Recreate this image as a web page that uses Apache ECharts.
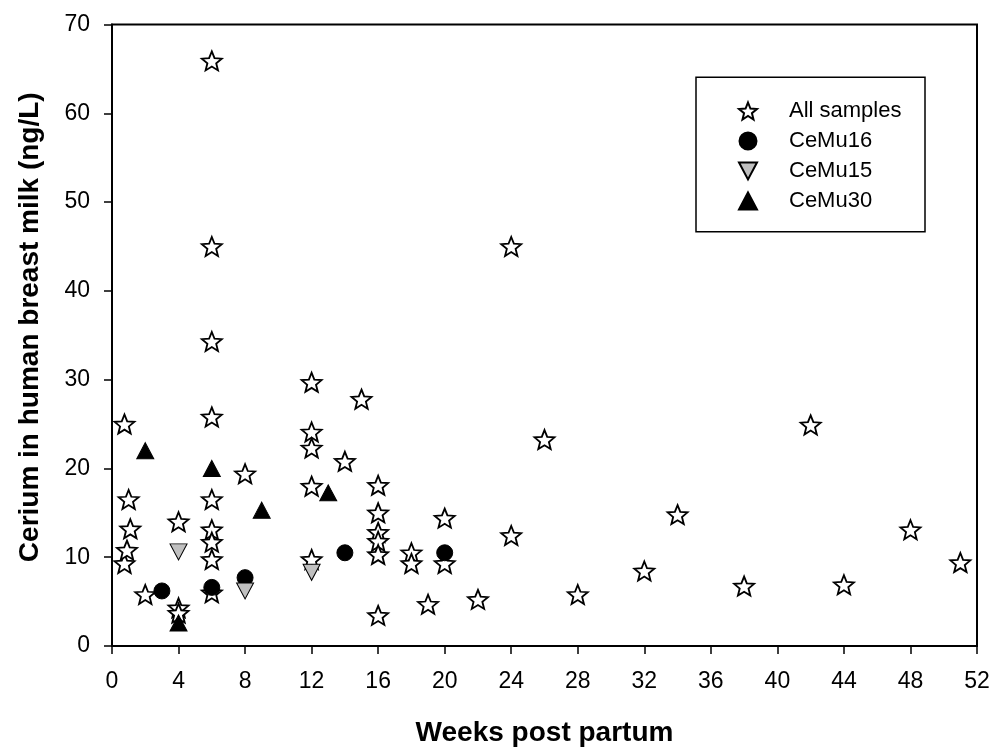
<!DOCTYPE html>
<html>
<head>
<meta charset="utf-8">
<script src="https://cdn.jsdelivr.net/npm/echarts@6/dist/echarts.min.js"></script>
<style>
  html, body { margin: 0; padding: 0; background: #fff; }
  #chart { width: 995px; height: 752px; }
</style>
</head>
<body>
<div id="chart"></div>
<script>
"use strict";

// weeks post partum / cerium (ng/L)
var allWeeks = [0.75, 0.75, 0.9, 1, 1.1, 2, 4, 4, 4, 6, 6, 6, 6, 6, 6, 6, 6, 6, 8,
  12, 12, 12, 12, 12, 14, 15, 16, 16, 16, 16, 16, 16, 18, 18, 19, 20, 20, 22,
  24, 24, 26, 28, 32, 34, 38, 42, 44, 48, 51];
var allCe = [25.0, 9.3, 10.8, 16.5, 13.2, 5.8, 14.0, 4.3, 3.7, 65.9, 45.0, 34.3, 25.8, 16.5, 13.1, 11.7, 9.75, 6.0, 19.4,
  29.7, 24.1, 22.3, 18.0, 9.75, 20.8, 27.8, 18.1, 15.0, 12.8, 11.8, 10.3, 3.45, 10.5, 9.3, 4.7, 14.4, 9.3, 5.25,
  45.0, 12.45, 23.25, 5.8, 8.45, 14.8, 6.75, 24.9, 6.9, 13.1, 9.4];

var cemu16Weeks = [3, 6, 8, 14, 20];
var cemu16Ce = [6.2, 6.6, 7.7, 10.5, 10.5];

var cemu15Weeks = [4, 8, 12];
var cemu15Ce = [10.6, 6.2, 8.3];

var cemu30Weeks = [2, 4, 6, 9, 13];
var cemu30Ce = [22, 2.6, 20, 15.3, 17.25];

var xTicks = [0, 4, 8, 12, 16, 20, 24, 28, 32, 36, 40, 44, 48, 52];
var yTicks = [0, 10, 20, 30, 40, 50, 60, 70];

function pairs(xs, ys) {
  return xs.map(function (x, i) { return [x, ys[i]]; });
}

var starPath = 'path://M50,0 L62.9,32.2 L97.6,34.5 L70.9,56.8 L79.4,90.5 L50,72 L20.6,90.5 L29.1,56.8 L2.4,34.5 L37.1,32.2 Z';
var downTriPath = 'path://M0,0 L100,0 L50,94 Z';
var FONT = '"Liberation Sans", Arial, sans-serif';

var chart = echarts.init(document.getElementById('chart'), null, { renderer: 'canvas' });

var option = {
  backgroundColor: '#fff',
  animation: false,
  grid: {
    left: 112, right: 18, top: 24.5, bottom: 105.3,
    show: true, borderColor: '#000', borderWidth: 2,
    containLabel: false
  },
  xAxis: {
    type: 'value',
    min: xTicks[0], max: xTicks[xTicks.length - 1], interval: 4,
    name: 'Weeks post partum',
    nameLocation: 'middle',
    nameGap: 73,
    nameTextStyle: { fontFamily: FONT, fontSize: 28, fontWeight: 'bold', color: '#000' },
    axisLine: { show: true, lineStyle: { color: '#000', width: 2 } },
    axisTick: { show: true, inside: false, length: 8, lineStyle: { color: '#000', width: 1.5 } },
    axisLabel: { fontFamily: FONT, fontSize: 23, color: '#000', margin: 24 },
    splitLine: { show: false }
  },
  yAxis: {
    type: 'value',
    min: yTicks[0], max: yTicks[yTicks.length - 1], interval: 10,
    name: 'Cerium in human breast milk (ng/L)',
    nameLocation: 'middle',
    nameGap: 68,
    nameTextStyle: { fontFamily: FONT, fontSize: 28, fontWeight: 'bold', color: '#000', padding: [0, 0, 0, 16] },
    axisLine: { show: true, lineStyle: { color: '#000', width: 2 } },
    axisTick: { show: true, inside: false, length: 8, lineStyle: { color: '#000', width: 1.5 } },
    axisLabel: { fontFamily: FONT, fontSize: 23, color: '#000', margin: 22 },
    splitLine: { show: false }
  },
  legend: {
    orient: 'vertical',
    left: 733, top: 95,
    itemWidth: 18, itemHeight: 17,
    itemGap: 8,
    textStyle: { fontFamily: FONT, fontSize: 22, color: '#000', lineHeight: 22, padding: [0, 0, 0, 27] },
    data: [
      { name: 'All samples', icon: starPath },
      { name: 'CeMu16', icon: 'circle' },
      { name: 'CeMu15', icon: downTriPath },
      { name: 'CeMu30', icon: 'triangle' }
    ]
  },
  graphic: [{
    type: 'rect',
    shape: { x: 696, y: 77.3, width: 229, height: 154.4 },
    style: { fill: 'none', stroke: '#000', lineWidth: 1.5 },
    z: 10
  }],
  series: [
    {
      name: 'All samples', type: 'scatter',
      symbol: starPath, symbolSize: [20, 19],
      itemStyle: { color: '#fff', borderColor: '#000', borderWidth: 1.8, opacity: 1 },
      data: pairs(allWeeks, allCe), z: 2
    },
    {
      name: 'CeMu16', type: 'scatter',
      symbol: 'circle', symbolSize: 16,
      itemStyle: { color: '#000', borderColor: '#000', borderWidth: 1, opacity: 1 },
      data: pairs(cemu16Weeks, cemu16Ce), z: 3
    },
    {
      name: 'CeMu15', type: 'scatter',
      symbol: downTriPath, symbolSize: [17, 16],
      itemStyle: { color: '#c0c0c0', borderColor: '#000', borderWidth: 1, opacity: 1 },
      data: pairs(cemu15Weeks, cemu15Ce), z: 3
    },
    {
      name: 'CeMu30', type: 'scatter',
      symbol: 'triangle', symbolSize: [17, 16],
      itemStyle: { color: '#000', borderColor: '#000', borderWidth: 1, opacity: 1 },
      data: pairs(cemu30Weeks, cemu30Ce), z: 3
    }
  ]
};

chart.setOption(option);
</script>
</body>
</html>
